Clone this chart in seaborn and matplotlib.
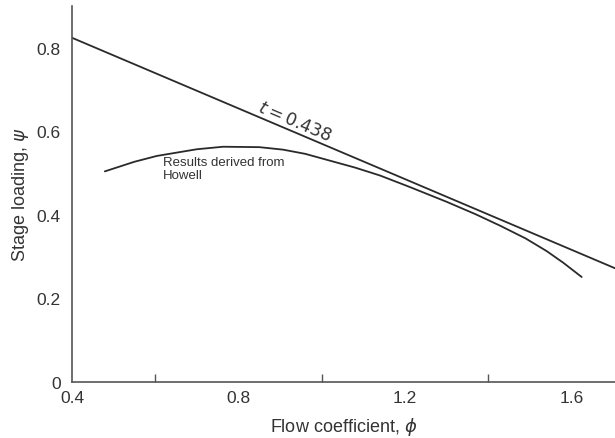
import numpy as np
import pandas as pd
import matplotlib
matplotlib.use("Agg")
import matplotlib.pyplot as plt
import seaborn as sns

# Straight-line limit t = 0.438 (end points)
line_phi = [0.40, 1.704]
line_psi = [0.824, 0.272]

# Stage loading derived from Howell's correlation
howell_phi = [0.479, 0.55, 0.604, 0.70, 0.763, 0.85, 0.907, 0.96, 1.00,
              1.08, 1.14, 1.21, 1.30, 1.37, 1.43, 1.49, 1.54, 1.58, 1.624]
howell_psi = [0.504, 0.527, 0.541, 0.557, 0.563, 0.562, 0.556, 0.546, 0.535,
              0.513, 0.494, 0.467, 0.431, 0.401, 0.373, 0.343, 0.313, 0.285, 0.251]

x_major = [0.4, 0.8, 1.2, 1.6]
x_minor = [0.6, 1.0, 1.4]
y_ticks = [0, 0.2, 0.4, 0.6, 0.8]
y_labels = ["0", "0.2", "0.4", "0.6", "0.8"]

sns.set_theme(style="white")
plt.rcParams["font.family"] = ["Liberation Sans", "DejaVu Sans"]
plt.rcParams["mathtext.fontset"] = "dejavusans"

fig = plt.figure(figsize=(6.15, 4.39), dpi=100)
ax = fig.add_axes([0.117, 0.128, 0.883, 0.856])

ink = "#2a2a2a"
sns.lineplot(x=line_phi, y=line_psi, ax=ax, color=ink, lw=1.3, sort=False)
sns.lineplot(x=howell_phi, y=howell_psi, ax=ax, color=ink, lw=1.3, sort=False)

ax.set_xlim(0.4, 1.704)
ax.set_ylim(0, 0.90)
ax.set_xticks(x_major)
ax.set_xticklabels([f"{v:.1f}" for v in x_major])
ax.set_xticks(x_minor, minor=True)
ax.set_yticks(y_ticks)
ax.set_yticklabels(y_labels)

ax.tick_params(axis="both", which="both", direction="in", colors="#555555",
               labelcolor="#333333", labelsize=12.5, width=1.0)
ax.tick_params(axis="both", which="major", length=6)
ax.tick_params(axis="x", which="both", pad=6)
ax.tick_params(axis="y", which="major", pad=8)
ax.tick_params(axis="x", which="minor", length=6, bottom=True)

for side in ["top", "right"]:
    ax.spines[side].set_visible(False)
for side in ["left", "bottom"]:
    ax.spines[side].set_color("#555555")
    ax.spines[side].set_linewidth(1.2)

ax.set_xlabel(r"Flow coefficient, $\phi$", fontsize=13, color="#333333", labelpad=7)
ax.set_ylabel(r"Stage loading, $\psi$", fontsize=13, color="#333333", labelpad=4)

ax.text(0.937, 0.627, r"$t = 0.438$", rotation=-23, fontsize=12.5,
        color="#333333", ha="center", va="center", rotation_mode="anchor")
ax.text(0.618, 0.540, "Results derived from\nHowell", fontsize=9.5,
        color="#333333", ha="left", va="top", linespacing=1.05)

fig.savefig("out.png", dpi=100, facecolor="white")
